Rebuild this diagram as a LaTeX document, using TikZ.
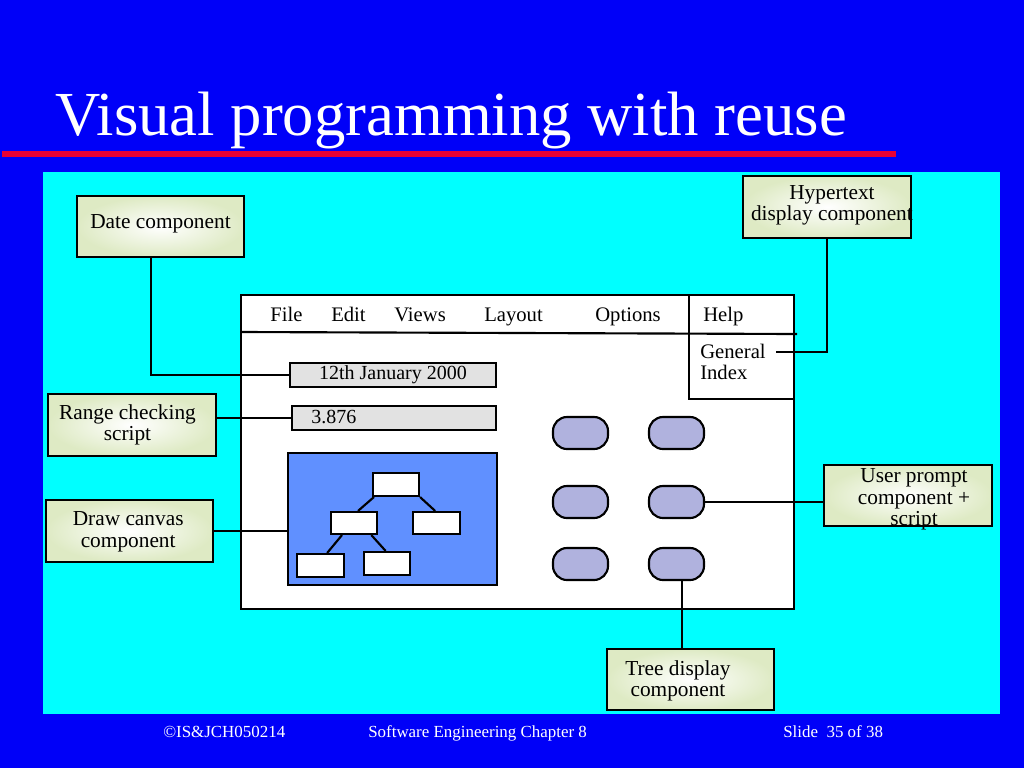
\documentclass[tikz,border=0pt]{standalone}
\usepackage{fontspec}
\setmainfont{Liberation Serif}
\definecolor{slideblue}{RGB}{0,0,248}
\definecolor{panelcyan}{RGB}{0,255,255}
\definecolor{titlered}{RGB}{232,0,52}
\definecolor{boxgreen}{RGB}{222,234,196}
\definecolor{fieldgray}{RGB}{226,226,226}
\definecolor{canvasblue}{RGB}{96,144,255}
\definecolor{btnlav}{RGB}{176,178,222}
\begin{document}
\begin{tikzpicture}[x=0.75pt,y=-0.75pt,
  callout/.style={draw=black, line width=2.2pt, inner color=white, outer color=boxgreen, inner sep=0pt},
  calltext/.style={align=center, font=\fontsize{16}{16}\selectfont, inner sep=0pt},
  menuitem/.style={anchor=base west, inner sep=0pt, font=\fontsize{15.5}{16}\selectfont},
  field/.style={draw=black, line width=1.8pt, fill=fieldgray, inner sep=0pt,
    font=\fontsize{15}{16}\selectfont},
  treebox/.style={draw=black, line width=1.6pt, fill=white, inner sep=0pt},
  btn/.style={draw=black, line width=1.6pt, fill=btnlav, rounded corners=10.5pt, inner sep=0pt,
    minimum width=55*0.75pt, minimum height=32*0.75pt},
  conn/.style={draw=black, line width=1.6pt},
  foot/.style={text=white, anchor=base west, inner sep=0pt, font=\fontsize{12.7}{14}\selectfont}]
\useasboundingbox (0,0) rectangle (1024,768);
\fill[slideblue] (0,0) rectangle (1024,768);
% title
\node[text=white, anchor=base west, inner sep=0pt, font=\fontsize{47}{50}\selectfont] (title) at (55,135) {Visual programming with reuse};
\fill[titlered] (2,151) rectangle (896,157);
% panel
\fill[panelcyan] (43,172) rectangle (1000,714);
% footer
\node[foot] (f1) at (163,737) {©IS\&JCH050214};
\node[foot] (f2) at (368,737) {Software Engineering Chapter 8};
\node[foot] (f3) at (783,737) {Slide\ \ 35 of 38};

% window
\node[draw=black, line width=2pt, fill=white, minimum width=553*0.75pt, minimum height=314*0.75pt, inner sep=0pt] (win) at (517.5,452) {};
\draw[line width=1.6pt] (241,332) -- (797,334);
\draw[line width=1.8pt] (689,295) -- (689,399) -- (794,399);
\node[menuitem] (mfile) at (270,321.5) {File};
\node[menuitem] (medit) at (331,321.5) {Edit};
\node[menuitem] (mviews) at (394,321.5) {Views};
\node[menuitem] (mlayout) at (484,321.5) {Layout};
\node[menuitem] (moptions) at (595,321.5) {Options};
\node[menuitem] (mhelp) at (703,321.5) {Help};
\node[anchor=west, inner sep=0pt, align=left, font=\fontsize{15.5}{16}\selectfont] (gindex) at (700,362) {General\\Index};

% fields
\node[field, minimum width=206*0.75pt, minimum height=24*0.75pt] (datefield) at (393,375) {12th January 2000};
\node[field, minimum width=204*0.75pt, minimum height=24*0.75pt] (numfield) at (394,418) {};
\node[anchor=west, inner sep=0pt, font=\fontsize{15}{16}\selectfont] (numtext) at (311,417) {3.876};

% canvas
\node[draw=black, line width=2pt, fill=canvasblue, minimum width=209*0.75pt, minimum height=132*0.75pt, inner sep=0pt] (canvas) at (392.5,519) {};
\node[treebox, minimum width=46*0.75pt, minimum height=23*0.75pt] (t1) at (396,484.5) {};
\node[treebox, minimum width=46*0.75pt, minimum height=22*0.75pt] (t2) at (354,523) {};
\node[treebox, minimum width=47*0.75pt, minimum height=22*0.75pt] (t3) at (436.5,523) {};
\node[treebox, minimum width=47*0.75pt, minimum height=23*0.75pt] (t4) at (320.5,565.5) {};
\node[treebox, minimum width=46*0.75pt, minimum height=23*0.75pt] (t5) at (387,563.5) {};
\draw[line width=1.6pt] (t1.south west) ++(2,0) -- ([xshift=3pt]t2.north);
\draw[line width=1.6pt] (t1.south east) -- ([xshift=-1pt]t3.north);
\draw[line width=1.6pt] ([xshift=-9pt]t2.south) -- ([xshift=5pt]t4.north);
\draw[line width=1.6pt] ([xshift=13pt]t2.south) -- ([xshift=-1pt]t5.north);

% buttons
\node[btn] (b11) at (580.5,433) {};
\node[btn] (b12) at (676.5,433) {};
\node[btn] (b21) at (580.5,502) {};
\node[btn] (b22) at (676.5,502) {};
\node[btn] (b31) at (580.5,564) {};
\node[btn] (b32) at (676.5,564) {};

% callout boxes
\node[callout, minimum width=167*0.75pt, minimum height=61*0.75pt,
  label={[calltext, yshift=2.2pt]center:Date component}] (datebox) at (160.5,226.5) {};
\node[callout, minimum width=168*0.75pt, minimum height=62*0.75pt,
  label={[calltext, xshift=3.7pt, yshift=1.2pt]center:{Hypertext\\display component}}] (hyperbox) at (827,207) {};
\node[callout, minimum width=168*0.75pt, minimum height=62*0.75pt,
  label={[calltext, xshift=-3.4pt]center:{Range checking\\script}}] (rangebox) at (132,425) {};
\node[callout, minimum width=167*0.75pt, minimum height=62*0.75pt,
  label={[calltext, xshift=-1pt, yshift=-0.6pt]center:{Draw canvas\\component}}] (drawbox) at (129.5,531) {};
\node[callout, minimum width=168*0.75pt, minimum height=61*0.75pt,
  label={[calltext, xshift=4.5pt, yshift=-3pt]center:{User prompt\\component +\\script}}] (userbox) at (908,495.5) {};
\node[callout, minimum width=167*0.75pt, minimum height=61*0.75pt,
  label={[calltext, xshift=-9.4pt, yshift=-1.1pt]center:{Tree display\\component}}] (treedisp) at (690.5,679.5) {};

% connectors
\coordinate (dateline) at (151,0);
\coordinate (genend) at (776,352);
\draw[conn] (datebox.south -| dateline) |- (datefield.west);
\draw[conn] (hyperbox.south) |- (genend);
\draw[conn] (rangebox.east |- numfield.west) -- (numfield.west);
\draw[conn] (drawbox.east) -- (drawbox.east -| canvas.west);
\draw[conn] (b22.east) -- (b22.east -| userbox.west);
\draw[conn] ([xshift=4pt]b32.south) -- ([xshift=4pt]b32.south |- treedisp.north);
\end{tikzpicture}
\end{document}
